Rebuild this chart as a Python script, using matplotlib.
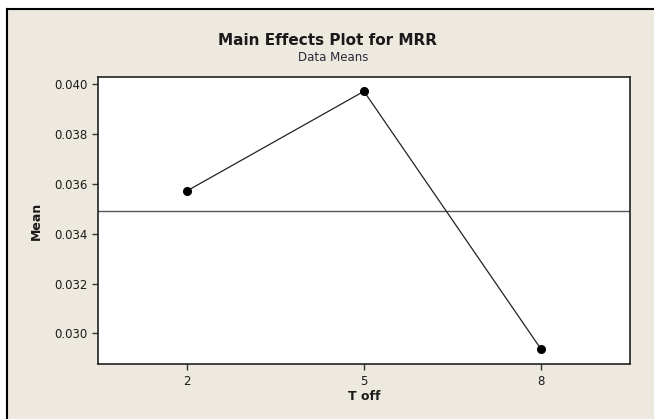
import numpy as np
import matplotlib
matplotlib.use('Agg')
import matplotlib.pyplot as plt
from matplotlib.patches import Rectangle
from matplotlib.lines import Line2D

# Main effects data: mean MRR at each T off level
levels = ['2', '5', '8']
mrr_means = [0.035715, 0.03972, 0.02936]
y_ticks = [0.030, 0.032, 0.034, 0.036, 0.038, 0.040]

grand_mean = np.mean(mrr_means)

bg = '#ede9df'
text_color = '#1a1a1a'

plt.rcParams['font.family'] = 'DejaVu Sans'

fig = plt.figure(figsize=(6.54, 4.19), dpi=100, facecolor='white')

# Window-style beige panel with a dark border on the left and top
left_edge, top_edge = 0.0112, 0.978
fig.patches.append(Rectangle((left_edge, 0), 1.0, top_edge, transform=fig.transFigure,
                             facecolor=bg, edgecolor='none', zorder=-10))
fig.lines.append(Line2D([left_edge, left_edge], [0, top_edge],
                        transform=fig.transFigure, color='black', linewidth=1.5))
fig.lines.append(Line2D([left_edge, 1.05], [top_edge, top_edge],
                        transform=fig.transFigure, color='black', linewidth=1.5))

ax = fig.add_axes([0.150, 0.131, 0.813, 0.685])
ax.set_facecolor('white')

x = np.arange(len(levels))
ax.axhline(grand_mean, color='#555555', linewidth=1.0, zorder=1)
ax.plot(x, mrr_means, color='#222222', linewidth=0.9, marker='o',
        markersize=5.5, markerfacecolor='black', markeredgecolor='black', zorder=2)

ax.set_xlim(-0.5, 2.5)
ax.set_ylim(0.028767, 0.04029)
ax.set_xticks(x)
ax.set_xticklabels(levels)
ax.set_yticks(y_ticks)
ax.set_yticklabels([f'{v:.3f}' for v in y_ticks])

ax.tick_params(direction='out', length=4, width=1, colors='#333333',
               labelcolor=text_color, labelsize=8.5)
for s in ax.spines.values():
    s.set_color('#222222')
    s.set_linewidth(1.2)

ax.set_xlabel('T off', fontsize=9, fontweight='bold', color=text_color, labelpad=2)
ax.set_ylabel('Mean', fontsize=9, fontweight='bold', color=text_color, labelpad=8)

fig.text(0.501, 0.893, 'Main Effects Plot for MRR', ha='center', va='baseline',
         fontsize=11, fontweight='bold', color=text_color)
fig.text(0.510, 0.855, 'Data Means', ha='center', va='baseline',
         fontsize=8.5, color='#2a2a3a')

fig.savefig('out.png', dpi=100, facecolor=fig.get_facecolor())
